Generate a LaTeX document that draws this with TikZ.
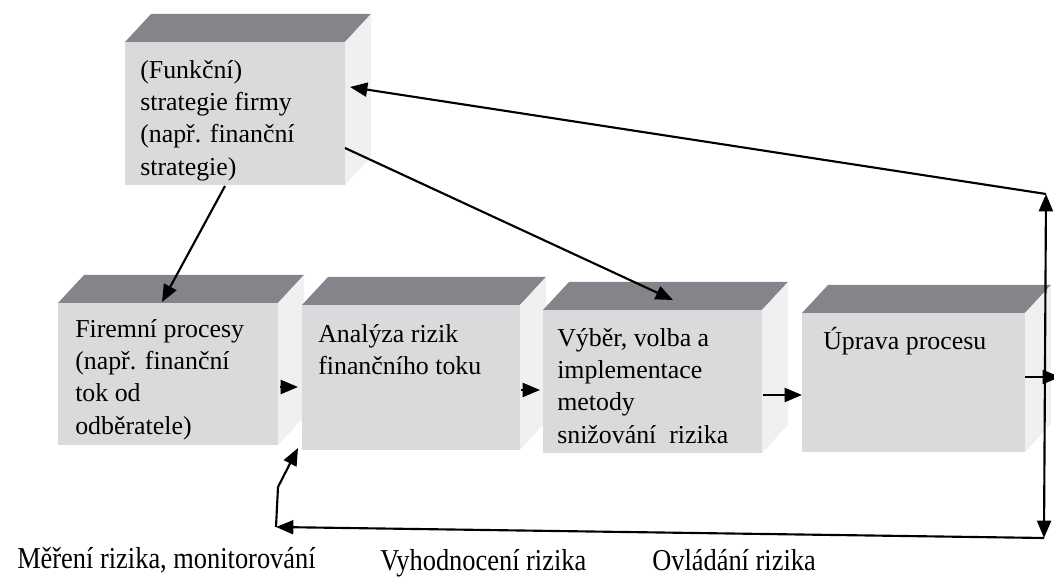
\documentclass[tikz,border=0pt]{standalone}
\usepackage{fontspec}
\setmainfont{Liberation Serif}
\usetikzlibrary{arrows.meta}
\usetikzlibrary{calc}

\definecolor{frontgray}{RGB}{218,218,221}
\definecolor{topgray}{RGB}{132,132,138}
\definecolor{sidegray}{RGB}{240,240,240}

\tikzset{
  face/.style={fill=frontgray, draw=none, inner sep=0pt, outer sep=0pt, anchor=north west},
  boxtext/.style={anchor=north west, align=left, inner sep=0pt, font=\fontsize{19.4}{24.2}\selectfont},
  steptext/.style={anchor=base west, inner sep=0pt, font=\fontsize{19.8}{24}\selectfont},
  arr/.style={line width=1.6pt, -{Triangle[length=13pt,width=10.5pt]}},
  darr/.style={line width=1.6pt, {Triangle[length=13pt,width=10.5pt]}-{Triangle[length=13pt,width=10.5pt]}},
}

% top and right side of a box
\newcommand{\cubefaces}[1]{%
  \fill[topgray] (#1.north west) -- ++(26,-28) -- ($(#1.north east)+(26,-28)$) -- (#1.north east) -- cycle;
  \fill[sidegray] (#1.north east) -- ++(26,-28) -- ($(#1.south east)+(26,-28)$) -- (#1.south east) -- cycle;}

\begin{document}
\begin{tikzpicture}[x=0.75pt,y=0.75pt,yscale=-1,xscale=1]
\useasboundingbox (0,0) rectangle (1054,580);

%Shape: Boxes
\node[face, minimum width=165pt, minimum height=107.25pt] (strat) at (125,42) {};
\cubefaces{strat}
\node[face, minimum width=165pt, minimum height=106.5pt] (proc) at (58,303) {};
\cubefaces{proc}
\node[face, minimum width=163.5pt, minimum height=108.75pt] (anal) at (302,305) {};
\cubefaces{anal}
\node[face, minimum width=164.25pt, minimum height=107.25pt] (vyber) at (543,310) {};
\cubefaces{vyber}
\node[face, minimum width=167.25pt, minimum height=104.25pt] (uprava) at (802,313) {};
\cubefaces{uprava}

% Text Node
\node[boxtext] (strat-txt) at ($(strat.north west)+(15,18)$) {(Funkční)\\strategie firmy\\(např. finanční\\strategie)};
% Text Node
\node[boxtext] (proc-txt) at ($(proc.north west)+(17,16)$) {Firemní procesy\\(např. finanční\\tok od\\odběratele)};
% Text Node
\node[boxtext] (anal-txt) at ($(anal.north west)+(16,19)$) {Analýza rizik\\finančního toku};
% Text Node
\node[boxtext] (vyber-txt) at ($(vyber.north west)+(14,18)$) {Výběr, volba a\\implementace\\metody\\snižování\ \ rizika};
% Text Node
\node[boxtext] (uprava-txt) at ($(uprava.north west)+(21,14)$) {Úprava procesu};

% Text Node
\node[steptext] (lmereni) at (17,569) {\scalebox{1}[1.15]{Měření rizika, monitorování}};
% Text Node
\node[steptext] (lvyhod) at (380,571) {\scalebox{1}[1.15]{Vyhodnocení rizika}};
% Text Node
\node[steptext] (lovlad) at (652,571) {\scalebox{1}[1.15]{Ovládání rizika}};

%Straight Lines
\coordinate (rtop) at (1046,194);
\coordinate (rbot) at (1044,538);
\coordinate (lbot) at (276,527);
\coordinate (lbend) at (278,487);
\coordinate (rout) at (1060,377);

\draw[arr] ($(strat.south west)+(100,1)$) -- ($(proc.north west)+(104,-1)$);
\draw[arr] ($(strat.north east)+(0,106)$) -- ($(vyber.north west)+(130,-10)$);
\draw[arr] (rtop) -- ($(strat.north east)+(5,45)$);
\draw[darr] (rtop) -- (rbot);
\draw[arr] (rbot) -- (lbot);
\draw[arr] (lbot) -- (lbend) -- ($(anal.south west)+(-4,-2)$);
\draw[arr] ($(proc.north east)+(2,84)$) -- ($(anal.north west)+(-4,82)$);
\draw[arr] ($(anal.north east)+(1,85)$) -- ($(vyber.north west)+(-3,80)$);
\draw[arr] ($(vyber.north east)+(1,85)$) -- ($(uprava.north west)+(0,82)$);
\draw[arr] ($(uprava.north east)+(0,64)$) -- (rout);

\end{tikzpicture}
\end{document}
